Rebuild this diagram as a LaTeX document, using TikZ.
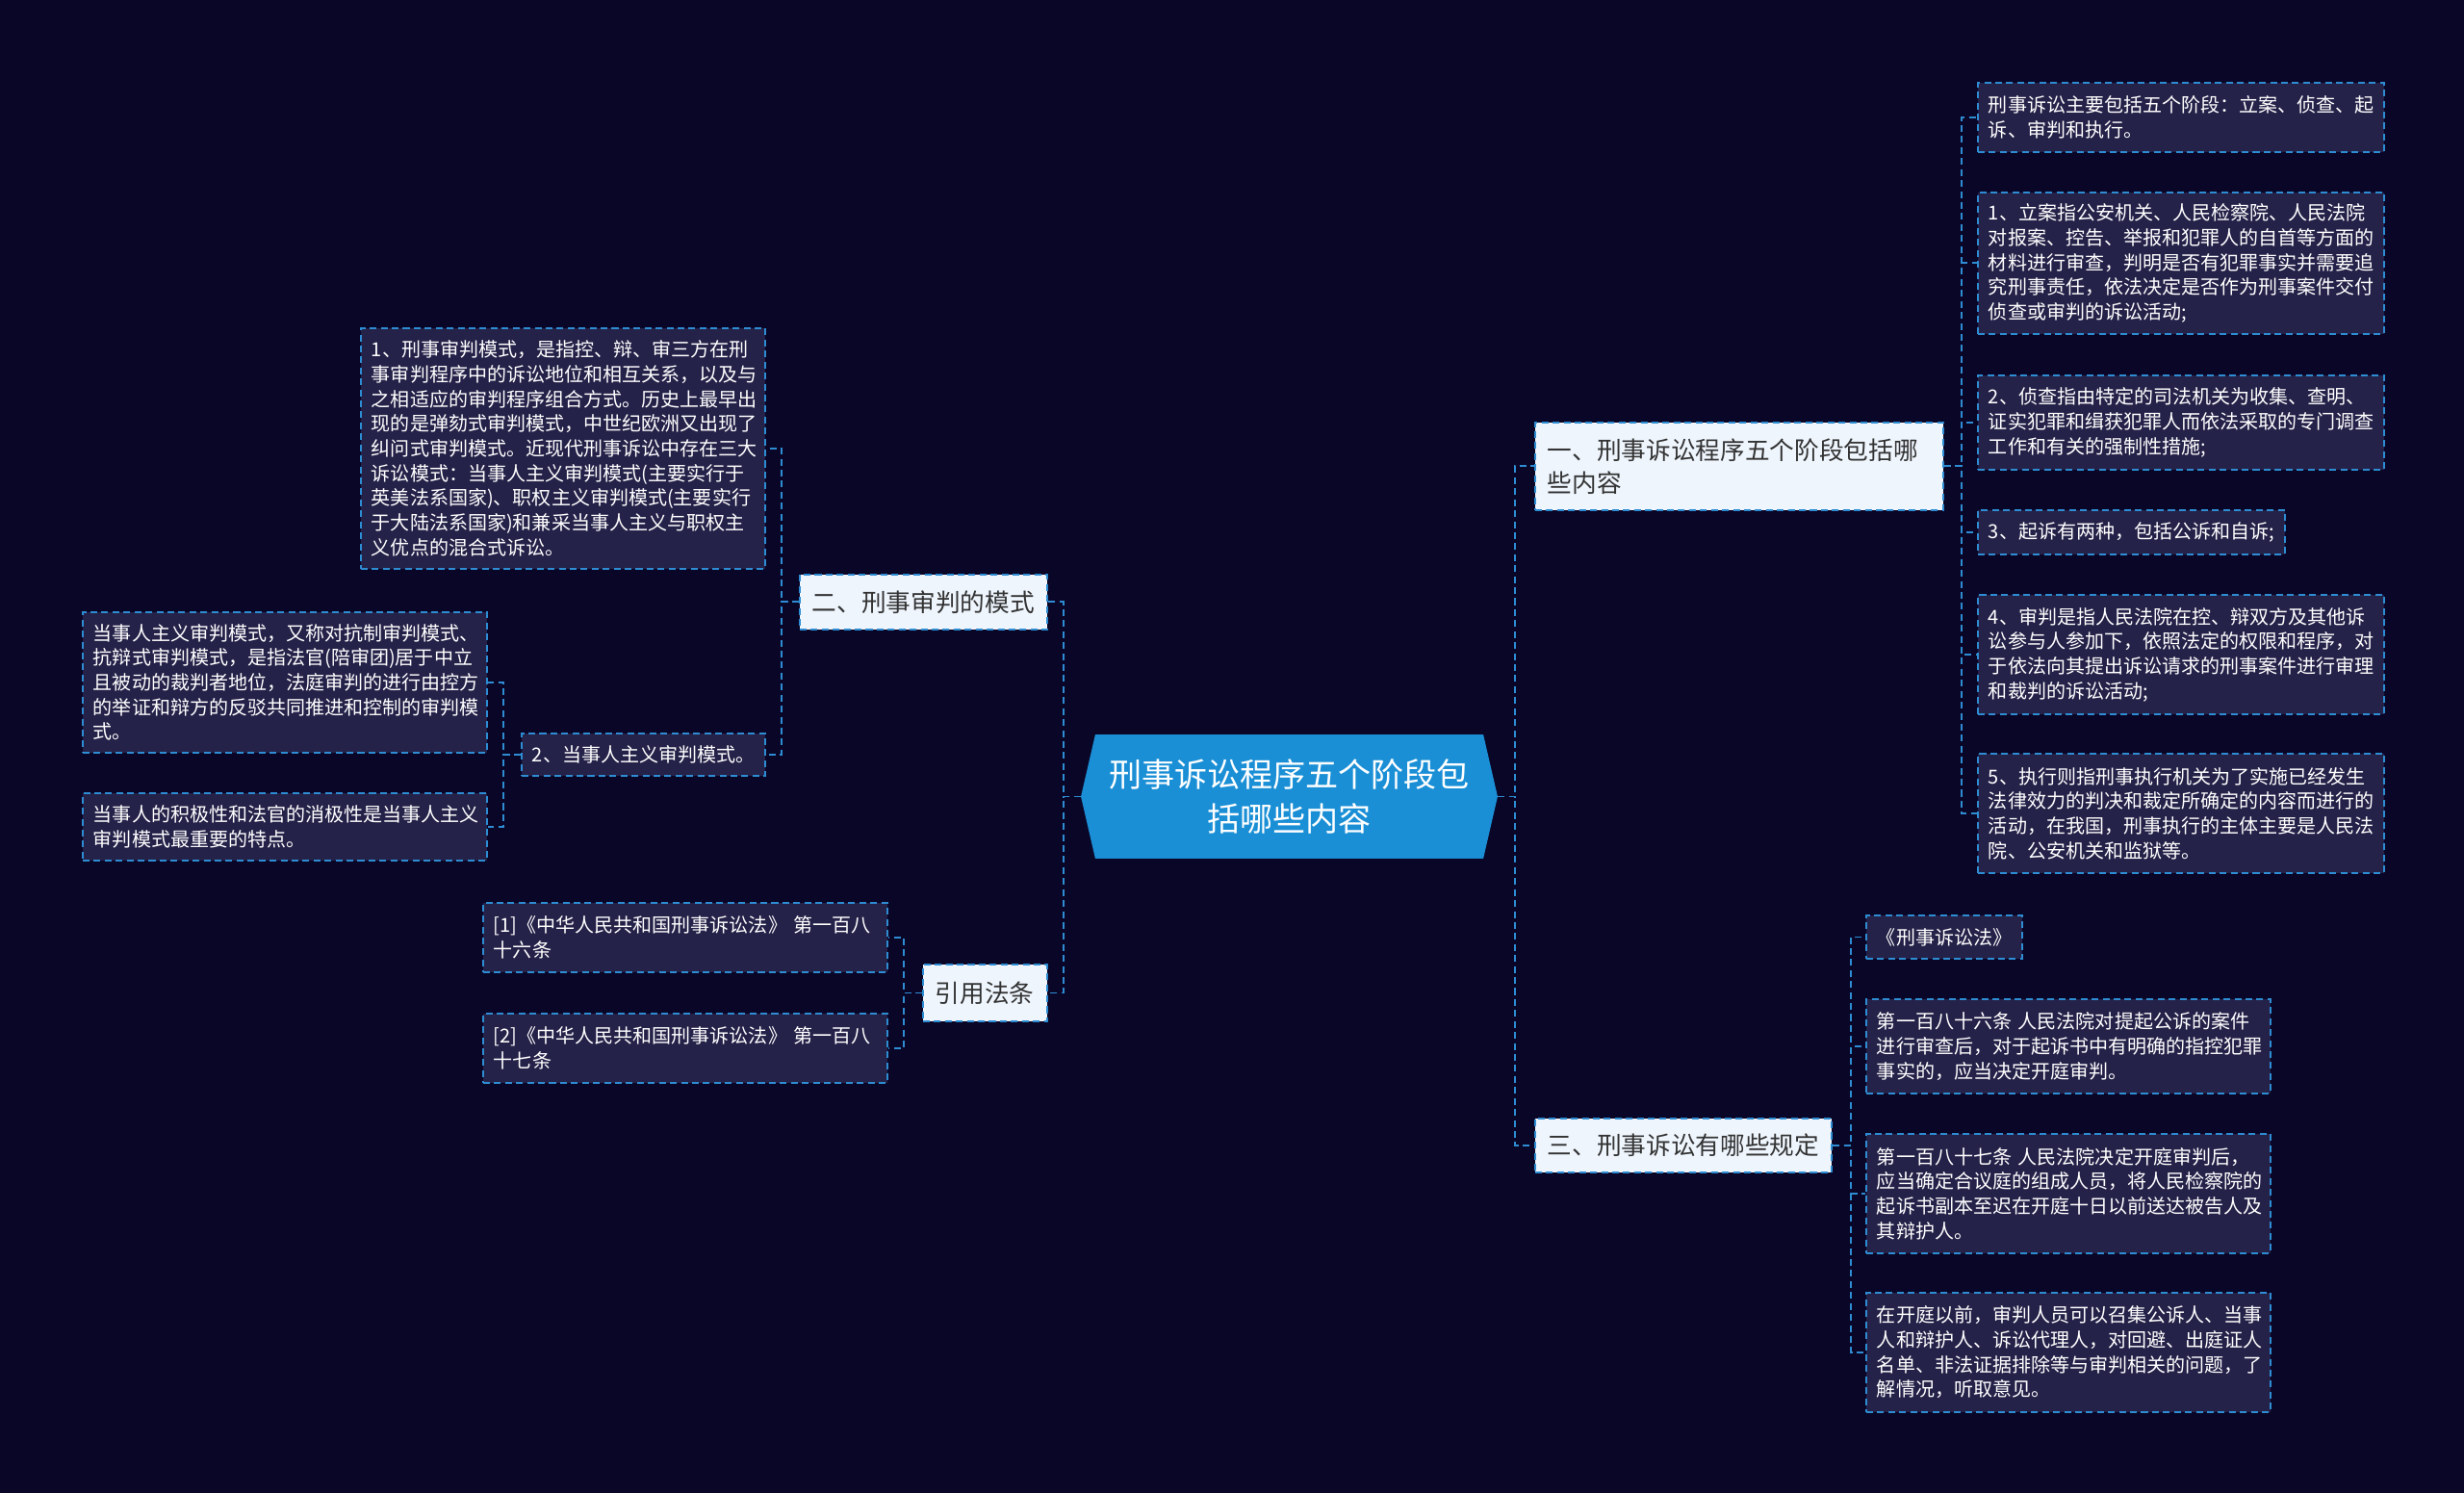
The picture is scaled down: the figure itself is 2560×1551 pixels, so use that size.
\documentclass[tikz,border=0pt]{standalone}
\usepackage{fontspec}
\setmainfont{Noto Sans CJK SC}
\usepackage{tikz}
\usetikzlibrary{shapes.symbols}

\definecolor{bgdark}{HTML}{0A0628}
\definecolor{leaffill}{HTML}{252249}
\definecolor{linkblue}{HTML}{2D8CD2}
\definecolor{rootblue}{HTML}{1A8FD6}
\definecolor{branchfill}{HTML}{EEF5FD}
\definecolor{branchtext}{HTML}{333333}

\newcommand{\leaffont}{\fontsize{11.4pt}{14.6pt}\selectfont}
\newcommand{\branchfont}{\fontsize{14.6pt}{19.4pt}\selectfont}
\newcommand{\rootfont}{\fontsize{19.4pt}{26pt}\selectfont}

\begin{document}
\begin{tikzpicture}[
  x=0.02cm, y=-0.02cm,
  link/.style={draw=linkblue, line width=1.1pt, dash pattern=on 4pt off 2.5pt},
  leaf/.style={draw=linkblue, line width=1.1pt, dash pattern=on 4pt off 2.5pt, fill=leaffill, text=white, font=\leaffont, align=left, anchor=north west, inner xsep=0.22cm, inner ysep=0pt},
  branch/.style={draw=linkblue, line width=1.1pt, dash pattern=on 4pt off 2.5pt, fill=branchfill, text=branchtext, font=\branchfont, align=left, anchor=north west, inner xsep=0.26cm, inner ysep=0pt},
  rootbox/.style={signal, signal to=east and west, signal pointer angle=154, fill=rootblue, text=white, font=\rootfont, align=center, inner xsep=0.1cm, minimum width=8.66cm, minimum height=2.58cm}
]

  % background
  \fill[bgdark] (0,0) rectangle (2560,1551);

  % centre
  \node (root) [rootbox] at (1339.5,827.5) {刑事诉讼程序五个阶段包\\括哪些内容};

  % main branches
  \node (b1) [branch, text width=7.96cm, minimum height=1.82cm] at (1594,438) {一、刑事诉讼程序五个阶段包括哪\\些内容};
  \node (b3) [branch, minimum height=1.12cm] at (1594,1161) {三、刑事诉讼有哪些规定};
  \node (b2) [branch, minimum height=1.14cm] at (830,596) {二、刑事审判的模式};
  \node (b4) [branch, minimum height=1.18cm] at (958,1001) {引用法条};

  % branch one
  \node (l1) [leaf, text width=8cm, minimum height=1.44cm] at (2054,85) {刑事诉讼主要包括五个阶段：立案、侦查、起\\诉、审判和执行。};
  \node (l2) [leaf, text width=8cm, minimum height=2.94cm] at (2054,199) {1、立案指公安机关、人民检察院、人民法院\\对报案、控告、举报和犯罪人的自首等方面的\\材料进行审查，判明是否有犯罪事实并需要追\\究刑事责任，依法决定是否作为刑事案件交付\\侦查或审判的诉讼活动;};
  \node (l3) [leaf, text width=8cm, minimum height=1.96cm] at (2054,389) {2、侦查指由特定的司法机关为收集、查明、\\证实犯罪和缉获犯罪人而依法采取的专门调查\\工作和有关的强制性措施;};
  \node (l4) [leaf, minimum height=0.92cm] at (2054,529) {3、起诉有两种，包括公诉和自诉;};
  \node (l5) [leaf, text width=8cm, minimum height=2.48cm] at (2054,617) {4、审判是指人民法院在控、辩双方及其他诉\\讼参与人参加下，依照法定的权限和程序，对\\于依法向其提出诉讼请求的刑事案件进行审理\\和裁判的诉讼活动;};
  \node (l6) [leaf, text width=8cm, minimum height=2.48cm] at (2054,782) {5、执行则指刑事执行机关为了实施已经发生\\法律效力的判决和裁定所确定的内容而进行的\\活动，在我国，刑事执行的主体主要是人民法\\院、公安机关和监狱等。};

  % branch three
  \node (m1) [leaf, minimum height=0.9cm] at (1938,950) {《刑事诉讼法》};
  \node (m2) [leaf, text width=7.96cm, minimum height=1.96cm] at (1938,1037) {第一百八十六条 人民法院对提起公诉的案件\\进行审查后，对于起诉书中有明确的指控犯罪\\事实的，应当决定开庭审判。};
  \node (m3) [leaf, text width=7.96cm, minimum height=2.48cm] at (1938,1177) {第一百八十七条 人民法院决定开庭审判后，\\应当确定合议庭的组成人员，将人民检察院的\\起诉书副本至迟在开庭十日以前送达被告人及\\其辩护人。};
  \node (m4) [leaf, text width=7.96cm, minimum height=2.48cm] at (1938,1342) {在开庭以前，审判人员可以召集公诉人、当事\\人和辩护人、诉讼代理人，对回避、出庭证人\\名单、非法证据排除等与审判相关的问题，了\\解情况，听取意见。};

  % branch two
  \node (a1) [leaf, text width=7.96cm, minimum height=5cm] at (374,340) {1、刑事审判模式，是指控、辩、审三方在刑\\事审判程序中的诉讼地位和相互关系，以及与\\之相适应的审判程序组合方式。历史上最早出\\现的是弹劾式审判模式，中世纪欧洲又出现了\\纠问式审判模式。近现代刑事诉讼中存在三大\\诉讼模式：当事人主义审判模式(主要实行于\\英美法系国家)、职权主义审判模式(主要实行\\于大陆法系国家)和兼采当事人主义与职权主\\义优点的混合式诉讼。};
  \node (a2) [leaf, minimum height=0.88cm] at (541,761) {2、当事人主义审判模式。};
  \node (p1) [leaf, text width=7.96cm, minimum height=2.92cm] at (85,635) {当事人主义审判模式，又称对抗制审判模式、\\抗辩式审判模式，是指法官(陪审团)居于中立\\且被动的裁判者地位，法庭审判的进行由控方\\的举证和辩方的反驳共同推进和控制的审判模\\式。};
  \node (p2) [leaf, text width=7.96cm, minimum height=1.4cm] at (85,823) {当事人的积极性和法官的消极性是当事人主义\\审判模式最重要的特点。};

  % cited articles
  \node (c1) [leaf, text width=7.96cm, minimum height=1.44cm] at (501,937) {[1]《中华人民共和国刑事诉讼法》 第一百八\\十六条};
  \node (c2) [leaf, text width=7.96cm, minimum height=1.44cm] at (501,1052) {[2]《中华人民共和国刑事诉讼法》 第一百八\\十七条};

  % connectors
  \foreach \b in {b1,b3} \draw[link] (root.east) -- ++(18,0) |- (\b.west);
  \foreach \b in {b2,b4} \draw[link] (root.west) -- ++(-18,0) |- (\b.east);
  \foreach \l in {l1,l2,l3,l4,l5,l6} \draw[link] (b1.east) -- ++(18,0) |- (\l.west);
  \foreach \m in {m1,m2,m3,m4} \draw[link] (b3.east) -- ++(19,0) |- (\m.west);
  \foreach \a in {a1,a2} \draw[link] (b2.west) -- ++(-18,0) |- (\a.east);
  \foreach \p in {p1,p2} \draw[link] (a2.west) -- ++(-18,0) |- (\p.east);
  \foreach \c in {c1,c2} \draw[link] (b4.west) -- ++(-19,0) |- (\c.east);

\end{tikzpicture}
\end{document}
